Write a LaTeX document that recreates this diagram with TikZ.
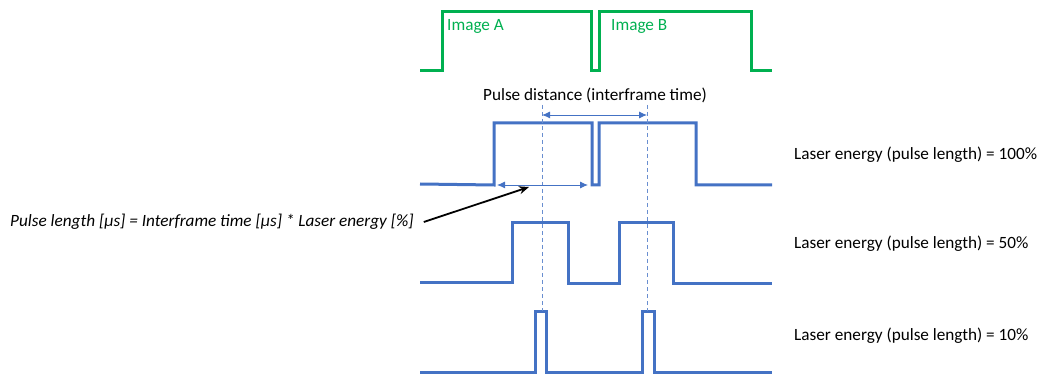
\documentclass[tikz,border=0pt]{standalone}
\usepackage{fontspec}
\setmainfont{Carlito}
\usetikzlibrary{arrows.meta}
\definecolor{imggreen}{RGB}{0,176,80}
\definecolor{pulseblue}{RGB}{68,114,196}
\begin{document}
\begin{tikzpicture}[x=1pt, y=-1pt, font=\fontsize{17.2}{20}\selectfont,
  frame/.style = {draw=imggreen, line width=3pt},
  pulse/.style = {draw=pulseblue, line width=3pt},
  guide/.style = {draw=pulseblue!80, dash pattern=on 4pt off 3pt, line width=0.6pt},
  span/.style = {draw=pulseblue, line width=0.9pt, {Latex[length=8pt,width=7pt]}-{Latex[length=8pt,width=7pt]}},
  lbl/.style = {inner sep=0pt}]
\useasboundingbox (0,0) rectangle (1039,374);

% camera frames
\draw[frame] (420,71) -- (442,71) -- (442,12) -- (591,12) -- (591,71) -- (599,71) -- (599,12) -- (751,12) -- (751,71) -- (772,71);
\node[lbl, text=imggreen, anchor=west] (imgA) at (447,26) {Image A};
\node[lbl, text=imggreen, anchor=west] (imgB) at (611,26) {Image B};

% laser pulses
\draw[pulse] (420,184) -- (494,185) -- (494,123) -- (592,123) -- (592,185) -- (599,185) -- (599,123) -- (696,123) -- (696,185) -- (772,185);
\draw[pulse] (420,282) -- (512,282) -- (512,223) -- (568,223) -- (568,283) -- (619,283) -- (619,223) -- (673,223) -- (673,283) -- (772,283);
\draw[pulse] (420,372) -- (535,372) -- (535,311) -- (546,311) -- (546,372) -- (642,372) -- (642,311) -- (654,311) -- (654,372) -- (772,372);

% guides
\coordinate (gAtop) at (542,105);
\coordinate (gAbot) at (542,311);
\coordinate (gBtop) at (647,105);
\coordinate (gBbot) at (647,311);
\draw[guide] (gAtop) -- (gAbot);
\draw[guide] (gBtop) -- (gBbot);

% spans
\node[lbl] (dist) at (595,95) {Pulse distance (interframe time)};
\coordinate (dA) at (542,115);
\coordinate (dB) at (647,115);
\draw[span] (dA) -- (dB);
\coordinate (lA) at (497,185);
\coordinate (lB) at (588,185);
\draw[span] (lA) -- (lB);

% formula
\node[lbl, anchor=west] (formula) at (10,222) {\itshape Pulse length [µs] = Interframe time [µs] * Laser energy [\%]};
\coordinate (hit) at (529,187);
\draw[line width=1.8pt, -{Stealth[length=10pt,width=8pt]}] ([xshift=10pt]formula.east) -- (hit);

% energy labels
\node[lbl, anchor=west] (e100) at (794,155) {Laser energy (pulse length) = 100\%};
\node[lbl, anchor=west] (e50) at (794,244) {Laser energy (pulse length) = 50\%};
\node[lbl, anchor=west] (e10) at (794,336) {Laser energy (pulse length) = 10\%};
\end{tikzpicture}
\end{document}
